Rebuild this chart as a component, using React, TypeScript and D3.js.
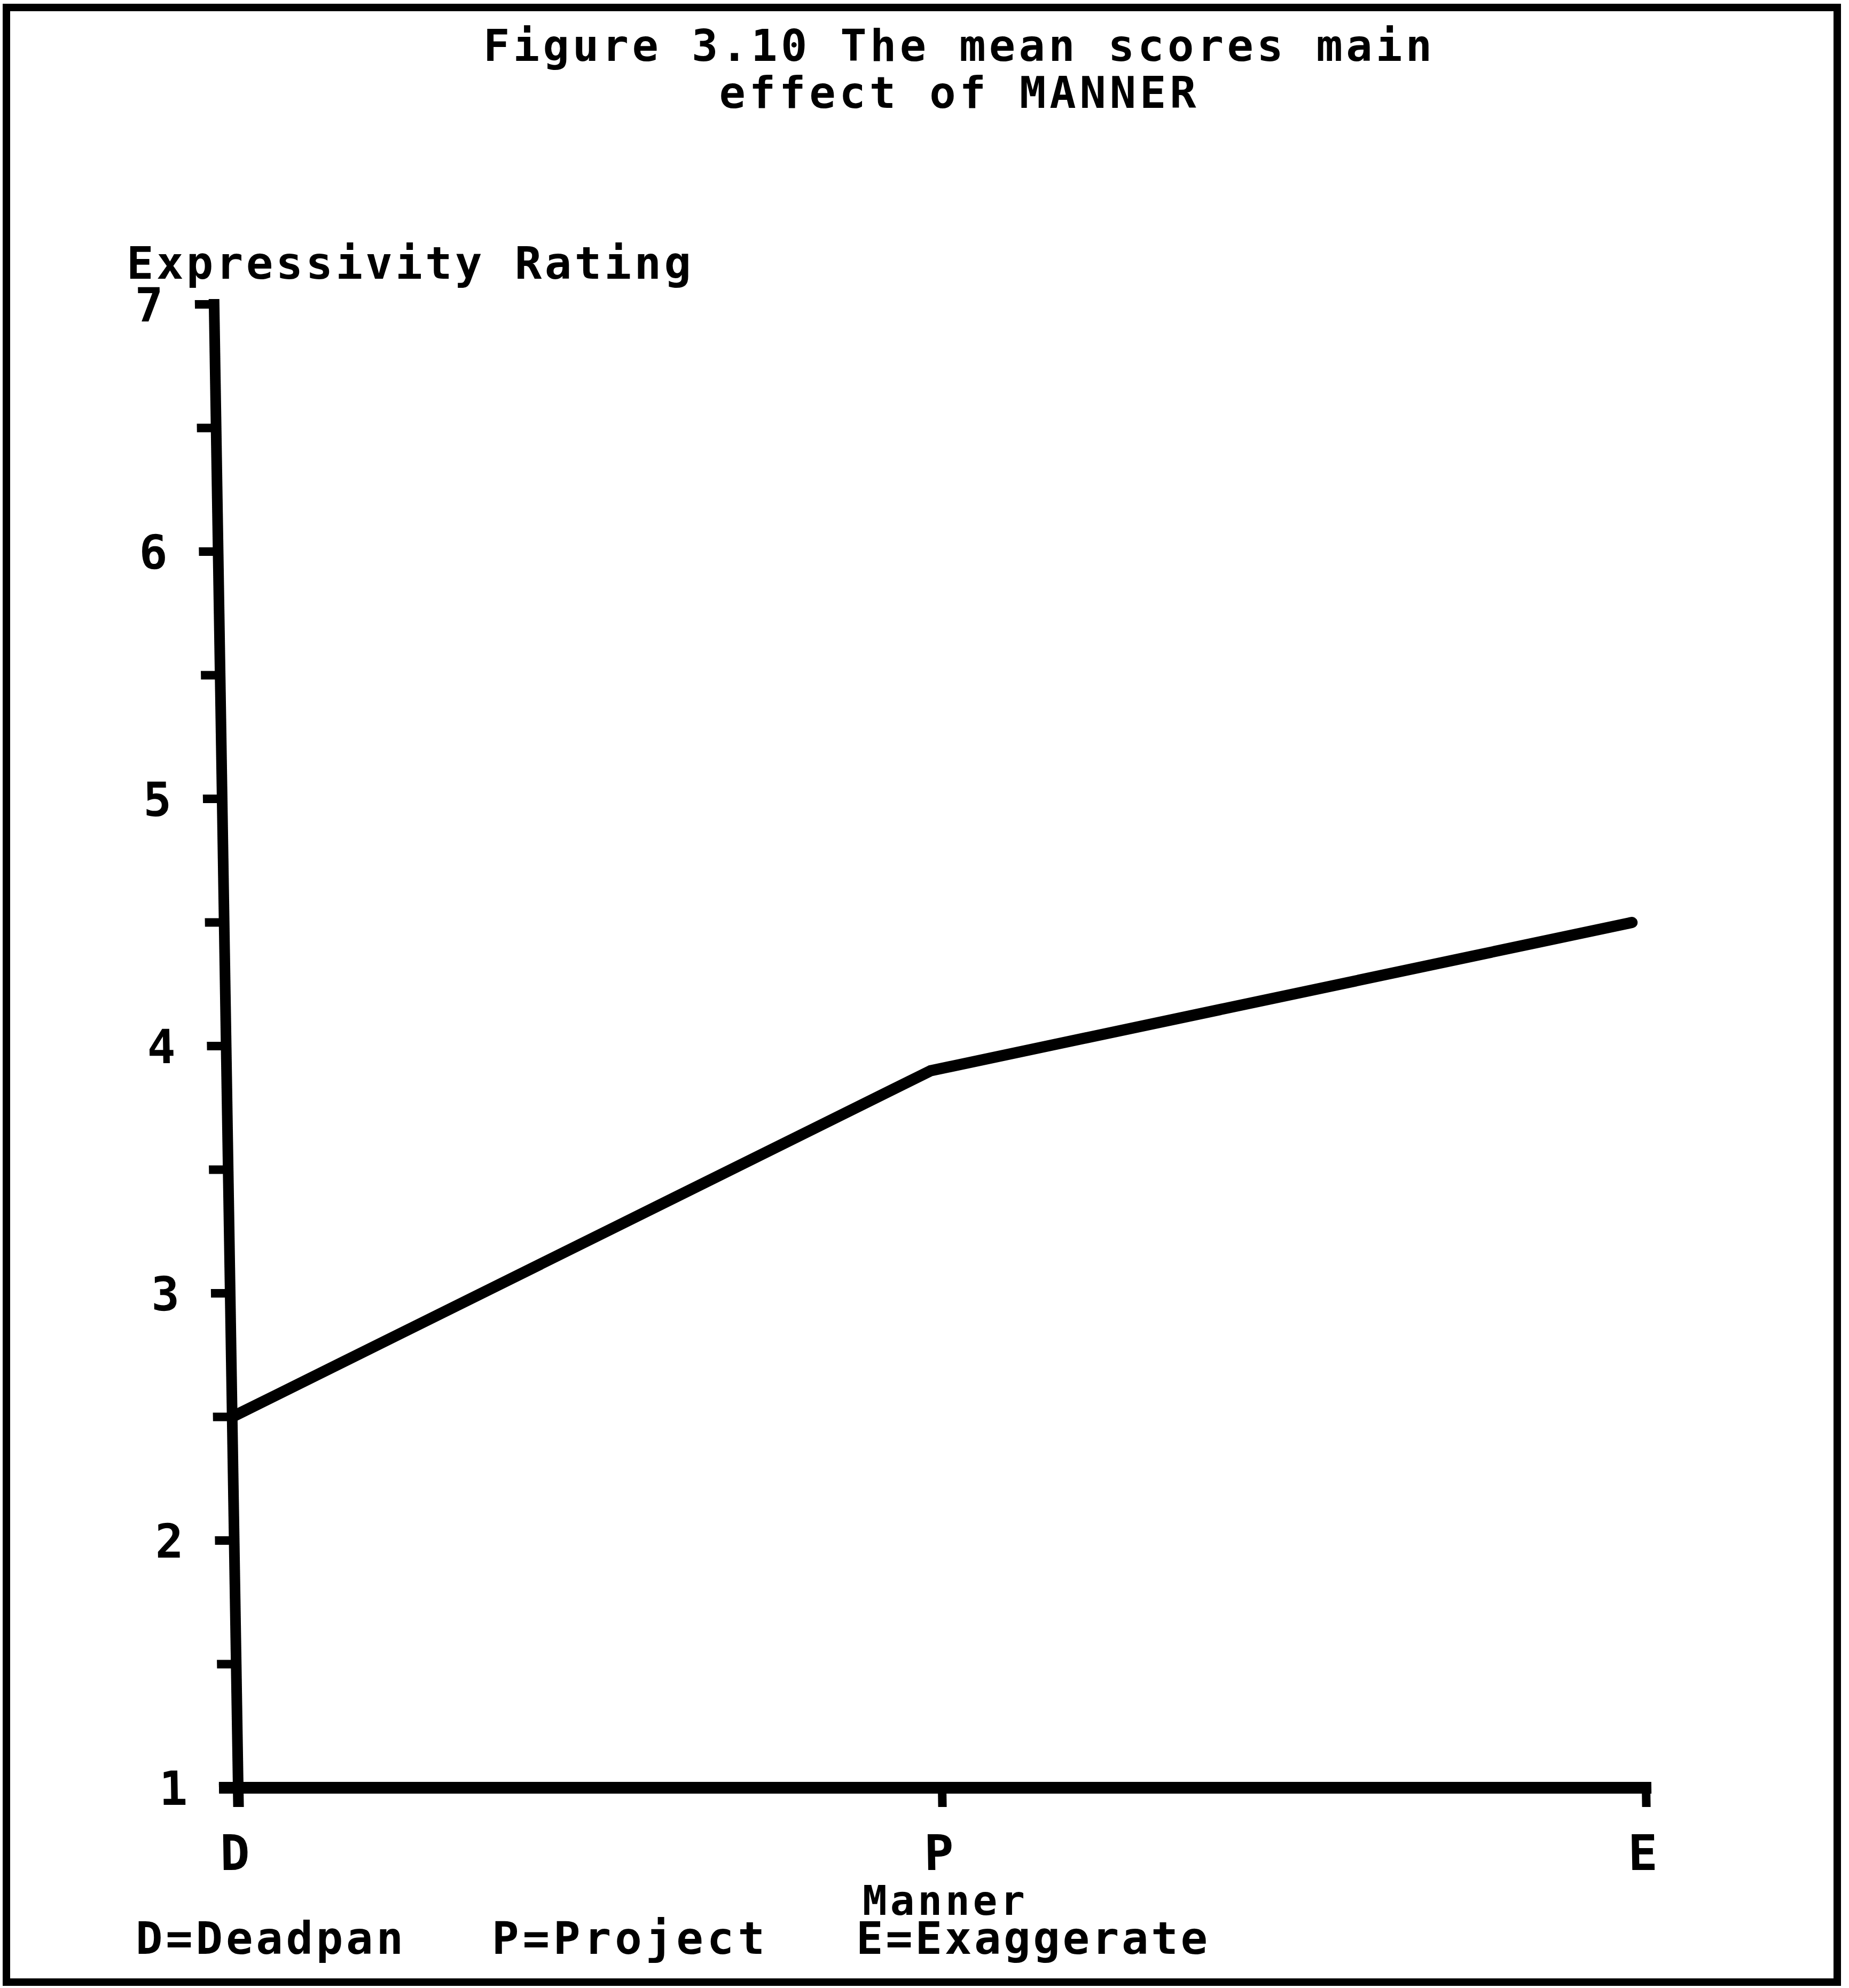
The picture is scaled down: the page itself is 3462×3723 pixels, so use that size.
import React from 'react';
import * as d3 from 'd3';

const CATEGORIES = ['D', 'P', 'E'];
const MEANS = [2.5, 3.9, 4.5];
const Y_TICKS = [1, 2, 3, 4, 5, 6, 7];
const Y_MINOR_TICKS = [1.5, 2.5, 3.5, 4.5, 5.5, 6.5];
const TITLE_LINES = ['Figure 3.10 The mean scores main', 'effect of MANNER'];
const Y_LABEL = 'Expressivity Rating';
const X_LABEL = 'Manner';
const LEGEND_ITEMS = ['D=Deadpan', 'P=Project', 'E=Exaggerate'];

const W = 3462;
const H = 3723;
const FONT = '"DejaVu Sans Mono", "Liberation Mono", monospace';

const App: React.FC = () => {
  // plot area (full-size pixel coords)
  const x = d3.scalePoint<string>().domain(CATEGORIES).range([446, 3082]);
  const y = d3.scaleLinear().domain([1, 7]).range([3348, 570]);
  const y0 = y(1);

  // the scanned plot leans a little: x shifts with height
  const skew = 0.93;

  const line = d3.line<number>()
    .x((_, i) => x(CATEGORIES[i]) as number)
    .y(d => y(d));

  const tickLen = 36;
  const axisW = 20;

  // layout for the text outside the plot
  const titleWidths = [1776, 893];
  const legendX = [254, 921, 1603];
  const legendW = [501, 511, 658];

  return (
    <svg
      width={W}
      height={H}
      style={{ position: 'absolute', left: 0, top: 0, background: '#fff' }}
    >
      <rect x={0} y={0} width={W} height={H} fill="#fff" />
      {/* frame */}
      <rect x={12} y={14} width={3428} height={3698} fill="none" stroke="#000" strokeWidth={14} />

      {/* title */}
      {TITLE_LINES.map((t, i) => (
        <text
          key={t}
          x={1793}
          y={114 + i * 88}
          textAnchor="middle"
          fontFamily={FONT}
          fontWeight="bold"
          fontSize={82}
          textLength={titleWidths[i]}
          lengthAdjust="spacing"
        >
          {t}
        </text>
      ))}

      {/* y label */}
      <text x={237} y={522} fontFamily={FONT} fontWeight="bold" fontSize={84}
        textLength={1057} lengthAdjust="spacing">
        {Y_LABEL}
      </text>

      <g transform={`translate(0,${y0}) skewX(${skew}) translate(0,${-y0})`}>
        {/* y axis */}
        <line x1={x('D')} x2={x('D')} y1={y(7) - axisW / 2} y2={y0 + tickLen} stroke="#000" strokeWidth={axisW} />
        {/* x axis */}
        <line x1={(x('D') as number) - tickLen} x2={(x('E') as number) + axisW / 2} y1={y0} y2={y0}
          stroke="#000" strokeWidth={axisW + 2} />

        {/* y ticks */}
        {Y_TICKS.concat(Y_MINOR_TICKS).map(t => (
          <line key={'yt' + t} x1={(x('D') as number) - tickLen} x2={x('D')} y1={y(t)} y2={y(t)}
            stroke="#000" strokeWidth={16} />
        ))}
        {Y_TICKS.map(t => (
          <text key={'yl' + t} x={(x('D') as number) - 95} y={y(t)} dy="0.36em" textAnchor="end"
            fontFamily={FONT} fontWeight="bold" fontSize={88}>
            {t}
          </text>
        ))}

        {/* x ticks */}
        {CATEGORIES.map(c => (
          <line key={'xt' + c} x1={x(c)} x2={x(c)} y1={y0} y2={y0 + tickLen}
            stroke="#000" strokeWidth={16} />
        ))}
        {CATEGORIES.map(c => (
          <text key={'xl' + c} x={(x(c) as number) - 8} y={3502} textAnchor="middle"
            fontFamily={FONT} fontWeight="bold" fontSize={92}>
            {c}
          </text>
        ))}

        {/* data line */}
        <path d={line(MEANS) || ''} fill="none" stroke="#000" strokeWidth={21}
          strokeLinecap="round" strokeLinejoin="round" />
      </g>

      {/* x label */}
      <text x={1767} y={3586} textAnchor="middle" fontFamily={FONT} fontWeight="bold" fontSize={76}
        textLength={304} lengthAdjust="spacing">
        {X_LABEL}
      </text>

      {/* legend */}
      {LEGEND_ITEMS.map((t, i) => (
        <text key={t} x={legendX[i]} y={3659} fontFamily={FONT} fontWeight="bold" fontSize={84}
          textLength={legendW[i]} lengthAdjust="spacing">
          {t}
        </text>
      ))}
    </svg>
  );
};

export default App;
